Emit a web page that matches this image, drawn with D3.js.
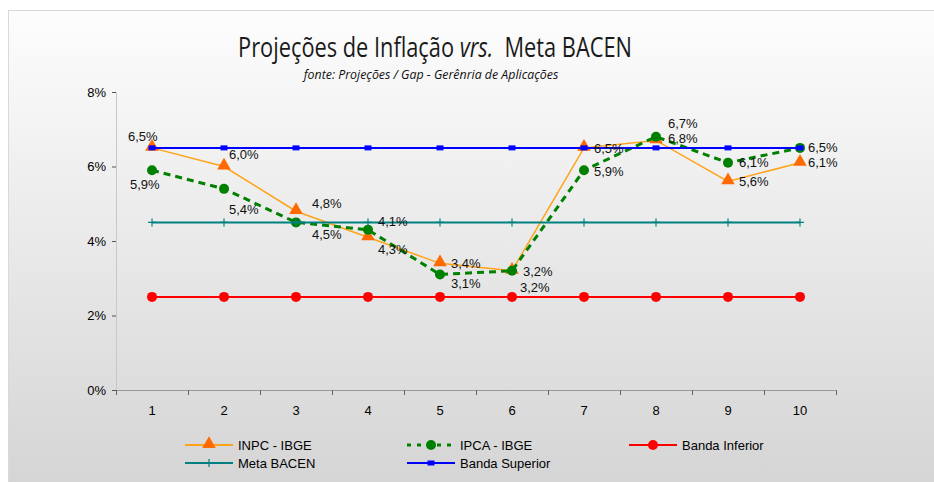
<!DOCTYPE html>
<html><head><meta charset="utf-8">
<script src="https://cdn.jsdelivr.net/npm/d3@7"></script>
<style>
html,body{margin:0;padding:0;background:#fff;}
svg{display:block;}
text{font-family:"Liberation Sans",Arial,sans-serif;fill:#000;}
</style></head><body>
<script>
const categories = [1,2,3,4,5,6,7,8,9,10];
const inpc = [6.5,6.0,4.8,4.1,3.4,3.2,6.5,6.7,5.6,6.1];
const ipca = [5.9,5.4,4.5,4.3,3.1,3.2,5.9,6.8,6.1,6.5];
const bandaInferior = [2.5,2.5,2.5,2.5,2.5,2.5,2.5,2.5,2.5,2.5];
const metaBacen = [4.5,4.5,4.5,4.5,4.5,4.5,4.5,4.5,4.5,4.5];
const bandaSuperior = [6.5,6.5,6.5,6.5,6.5,6.5,6.5,6.5,6.5,6.5];
const yTicks = [0,2,4,6,8];
const seriesNames = ["INPC - IBGE","IPCA - IBGE","Banda Inferior","Meta BACEN","Banda Superior"];

// label placement (layout only): [dx, dy] from marker
const inpcLabelOffset = [[-24,-11],[5,-12],[16,-8],[10,-16],[11,0],[11,1],[10,1],[12,-17],[11,0],[8,0]];
const ipcaLabelOffset = [[-22,14],[5,21],[16,12],[10,20],[11,9],[8,17],[10,1],[12,2],[11,0],[8,0]];

const W=934,H=482;
const svg=d3.select("body").append("svg").attr("width",W).attr("height",H);
const defs=svg.append("defs");
const g=defs.append("linearGradient").attr("id","bg").attr("x1",0).attr("y1",0).attr("x2",0).attr("y2",1);
g.append("stop").attr("offset","0%").attr("stop-color","#fdfdfd");
g.append("stop").attr("offset","100%").attr("stop-color","#d4d4d4");
svg.append("rect").attr("x",8.5).attr("y",10.5).attr("width",W).attr("height",H)
  .attr("fill","url(#bg)").attr("stroke","#d9d9d9").attr("stroke-width",1);

const x=d3.scaleBand().domain(categories).range([116,836]);
const cx=d=>x(d)+x.bandwidth()/2;
const y=d3.scaleLinear().domain([0,8]).range([390,92]);

// title (condensed to match reference width)
function fitText(sel, cxPos, targetW){
  const w=sel.node().getBBox().width;
  const s=targetW/w;
  sel.attr("transform",`translate(${cxPos},0) scale(${s},1)`);
}
const t=svg.append("text").attr("x",0).attr("y",57).attr("text-anchor","middle")
  .style("font-family","'Open Sans',sans-serif").style("font-size","28px").style("font-weight","400").style("fill","#1a1a1a");
t.append("tspan").text("Projeções de Inflação ");
t.append("tspan").style("font-style","italic").text("vrs.");
t.append("tspan").text("\u00a0 Meta BACEN");
fitText(t,435,394);
const st=svg.append("text").attr("x",0).attr("y",79).attr("text-anchor","middle")
  .style("font-family","'Open Sans',sans-serif").style("font-size","12px").style("font-style","italic").style("fill","#111")
  .text("fonte: Projeções / Gap - Gerênria de Aplicações");
fitText(st,431,257);

// axes
const fmtPct=d=>d+"%";
const yAxis=svg.append("g").attr("transform","translate(116,0)")
  .call(d3.axisLeft(y).tickValues(yTicks).tickFormat(fmtPct).tickSize(4).tickPadding(6));
yAxis.select(".domain").attr("stroke","#c8c8c8");
yAxis.selectAll(".tick line").attr("stroke","#555");
yAxis.selectAll("text").style("font-size","13px").style("font-family","'Liberation Sans',Arial,sans-serif").attr("fill","#000");

const xAxis=svg.append("g").attr("transform","translate(0,390)")
  .call(d3.axisBottom(x).tickSize(0).tickPadding(16));
xAxis.select(".domain").attr("stroke","#999").attr("d","M116,0.5H836");
xAxis.selectAll("text").style("font-size","13px").style("font-family","'Liberation Sans',sans-serif").attr("fill","#000");
const edges=categories.map(c=>x(c)).concat([x(categories[categories.length-1])+x.bandwidth()]);
svg.append("g").selectAll("line").data(edges).join("line")
  .attr("x1",d=>Math.round(d)+0.5).attr("x2",d=>Math.round(d)+0.5).attr("y1",390).attr("y2",395)
  .attr("stroke","#666");

const line=d3.line().x((d,i)=>cx(categories[i])).y(d=>y(d));

// INPC
const gInpc=svg.append("g");
gInpc.append("path").attr("d",line(inpc)).attr("fill","none").attr("stroke","#FFA319").attr("stroke-width",1.5);
const tri=d3.symbol().type(d3.symbolTriangle).size(80);
gInpc.selectAll("path.m").data(inpc).join("path").attr("class","m")
  .attr("d",tri).attr("transform",(d,i)=>`translate(${cx(categories[i])},${y(d)-1})`).attr("fill","#FF6A00");

// IPCA
const gIpca=svg.append("g");
gIpca.append("path").attr("d",line(ipca)).attr("fill","none").attr("stroke","#008000").attr("stroke-width",3).attr("stroke-dasharray","7,5");
gIpca.selectAll("circle").data(ipca).join("circle")
  .attr("cx",(d,i)=>cx(categories[i])).attr("cy",d=>y(d)).attr("r",5).attr("fill","#008000");

// Banda Inferior
const gInf=svg.append("g");
gInf.append("path").attr("d",line(bandaInferior)).attr("fill","none").attr("stroke","#FF0000").attr("stroke-width",2);
gInf.selectAll("circle").data(bandaInferior).join("circle")
  .attr("cx",(d,i)=>cx(categories[i])).attr("cy",d=>y(d)).attr("r",5).attr("fill","#FF0000");

// Meta
const gMeta=svg.append("g");
gMeta.append("path").attr("d",line(metaBacen)).attr("fill","none").attr("stroke","#008080").attr("stroke-width",2);
gMeta.selectAll("path.m").data(metaBacen).join("path").attr("class","m")
  .attr("d",(d,i)=>{const X=cx(categories[i]),Y=y(d);return `M${X-4},${Y}H${X+4}M${X},${Y-4}V${Y+4}`;})
  .attr("stroke","#008080").attr("stroke-width",1.2);

// Banda Superior
const gSup=svg.append("g");
gSup.append("path").attr("d",line(bandaSuperior)).attr("fill","none").attr("stroke","#0000FF").attr("stroke-width",2);
gSup.selectAll("rect").data(bandaSuperior).join("rect")
  .attr("x",(d,i)=>cx(categories[i])-3.5).attr("y",d=>y(d)-2.5).attr("width",7).attr("height",5).attr("fill","#0000FF");

// data labels
const fmtLbl=v=>v.toFixed(1).replace(".",",")+"%";
function labels(vals,off){
  svg.append("g").selectAll("text").data(vals).join("text")
    .attr("x",(d,i)=>cx(categories[i])+off[i][0]).attr("y",(d,i)=>y(d)+off[i][1])
    .attr("dy","0.35em").style("font-size","13px").style("fill","#111").text(fmtLbl);
}
labels(inpc,inpcLabelOffset);
labels(ipca,ipcaLabelOffset);

// legend
const leg=svg.append("g");
const items=[
 {name:seriesNames[0],x:185,y:445,color:"#FFA319",m:"tri"},
 {name:seriesNames[1],x:407,y:445,color:"#008000",m:"circ",dash:true},
 {name:seriesNames[2],x:629,y:445,color:"#FF0000",m:"circR"},
 {name:seriesNames[3],x:185,y:463,color:"#008080",m:"plus"},
 {name:seriesNames[4],x:407,y:463,color:"#0000FF",m:"sq"}
];
items.forEach(it=>{
  const gg=leg.append("g");
  const L=48, mx=it.x+L/2;
  gg.append("line").attr("x1",it.x).attr("x2",it.x+L).attr("y1",it.y).attr("y2",it.y)
    .attr("stroke",it.color).attr("stroke-width",it.dash?3:2).attr("stroke-dasharray",it.dash?"4,6":null);
  if(it.m==="tri") gg.append("path").attr("d",tri).attr("transform",`translate(${mx},${it.y-1})`).attr("fill","#FF6A00");
  if(it.m==="circ"||it.m==="circR") gg.append("circle").attr("cx",mx).attr("cy",it.y).attr("r",5).attr("fill",it.color);
  if(it.m==="plus") gg.append("path").attr("d",`M${mx-4},${it.y}H${mx+4}M${mx},${it.y-4}V${it.y+4}`).attr("stroke",it.color).attr("stroke-width",1.2);
  if(it.m==="sq") gg.append("rect").attr("x",mx-3.5).attr("y",it.y-2.5).attr("width",7).attr("height",5).attr("fill",it.color);
  gg.append("text").attr("x",it.x+L+5).attr("y",it.y).attr("dy","0.35em").style("font-size","13px").text(it.name);
});
</script>
</body></html>
